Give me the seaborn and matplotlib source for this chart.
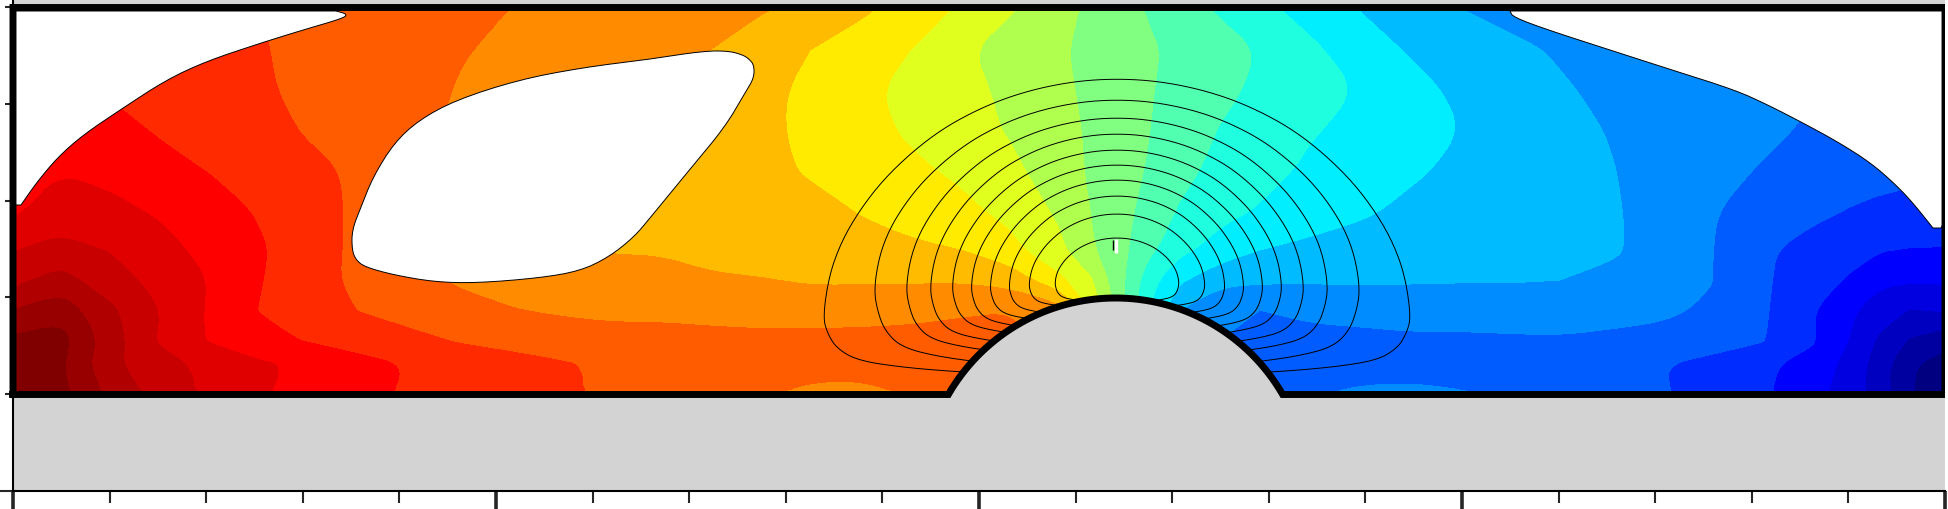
import numpy as np
import matplotlib
matplotlib.use("Agg")
import matplotlib.pyplot as plt
from matplotlib.path import Path
from matplotlib.patches import PathPatch
from matplotlib.ticker import FixedLocator
import seaborn as sns

sns.set_style("white")

band_colors = ["#000080", "#0000a0", "#0000c0", "#0000e0", "#0000ff", "#002cff", "#005cff",
               "#008cff", "#00bbff", "#00eeff", "#1fffe0", "#50ffaf", "#80ff80", "#b0ff4f",
               "#e0ff1f", "#ffeb00", "#ffbb00", "#ff8c00", "#ff5c00", "#ff2a00", "#ff0000",
               "#e10000", "#c80000", "#b00000", "#980000", "#800000"]

col_x = [13, 60, 110, 160, 210, 260, 310, 360, 410, 460, 510, 560, 610, 660, 710, 760, 810, 860, 910, 960,
         1010, 1060, 1090, 1120, 1150, 1180, 1220, 1260, 1310, 1360, 1410, 1460, 1510, 1560, 1610, 1660,
         1710, 1760, 1810, 1850, 1880, 1910, 1945]
row_y = [8, 50, 90, 130, 170, 210, 250, 280, 310, 340, 365, 394]

r008 = [21.2, 20.9, 20.6, 20.2, 19.6, 19.0, 18.8, 18.6, 18.4, 18.2, 18.0, 17.8, 17.65, 17.5, 17.3, 17.1, 16.75, 16.2, 15.6, 14.9,
        14.1, 13.3, 12.85, 12.4, 11.9, 11.45, 10.85, 10.25, 9.6, 8.95, 8.5, 8.0, 7.7, 7.5, 7.4, 7.3,
        7.2, 7.1, 7.0, 6.9, 6.8, 6.7, 6.6]
r050 = [20.3, 20.0, 19.8, 19.6, 19.4, 19.05, 18.8, 18.55, 18.3, 18.05, 17.85, 17.65, 17.45, 17.2, 17.0, 16.5, 16.0, 15.5, 15.0, 14.15,
        13.6, 13.1, 12.75, 12.45, 12.1, 11.8, 11.4, 10.95, 10.2, 9.5, 8.9, 8.5, 8.2, 7.9, 7.7, 7.5,
        7.35, 7.2, 7.0, 6.8, 6.7, 6.6, 6.5]
r090 = [20.6, 20.3, 19.9, 19.7, 19.4, 19.1, 18.8, 18.55, 18.25, 17.95, 17.7, 17.5, 17.3, 17.15, 16.95, 16.3, 15.75, 15.2, 14.75, 14.3,
        13.8, 13.2, 12.8, 12.45, 12.05, 11.7, 11.25, 10.8, 10.4, 9.95, 9.35, 8.8, 8.45, 8.1, 7.8, 7.6,
        7.4, 7.2, 7.05, 6.85, 6.7, 6.5, 6.3]
r130 = [21.0, 20.7, 20.3, 19.9, 19.55, 19.3, 18.9, 18.4, 18.15, 17.9, 17.6, 17.3, 17.0, 16.9, 16.5, 16.15, 15.85, 15.35, 14.85, 14.45,
        13.9, 13.25, 12.9, 12.45, 12.0, 11.55, 10.95, 10.6, 10.1, 9.7, 9.4, 9.0, 8.65, 8.3, 7.95, 7.7,
        7.45, 7.2, 6.9, 6.7, 6.55, 6.35, 6.2]
r170 = [20.9, 20.95, 20.7, 20.3, 19.95, 19.6, 19.2, 18.85, 18.4, 18.0, 17.6, 17.2, 16.9, 16.7, 16.55, 16.25, 15.9, 15.55, 15.2, 14.8,
        14.25, 13.4, 12.9, 12.4, 11.9, 11.3, 10.7, 10.4, 9.8, 9.45, 9.15, 8.8, 8.55, 8.3, 8.05, 7.65,
        7.3, 6.95, 6.75, 6.55, 6.4, 6.25, 6.1]
r210 = [20.8, 21.5, 21.25, 20.85, 20.4, 19.9, 19.4, 18.8, 18.2, 17.7, 17.3, 17.0, 16.8, 16.65, 16.5, 16.35, 16.25, 15.95, 15.65, 15.25,
        14.7, 13.8, 13.0, 12.35, 11.6, 10.9, 10.35, 9.9, 9.5, 9.15, 8.8, 8.6, 8.45, 8.3, 8.1, 7.7,
        7.05, 6.75, 6.3, 5.95, 5.75, 5.7, 5.7]
r250 = [21.95, 22.3, 21.95, 21.35, 20.7, 20.1, 19.45, 18.75, 18.1, 17.65, 17.35, 17.15, 16.95, 16.95, 16.75, 16.5, 16.35, 16.25, 16.15, 16.0,
        15.3, 14.2, 13.15, 12.3, 11.2, 10.25, 9.55, 9.0, 8.75, 8.6, 8.5, 8.4, 8.35, 8.3, 8.15, 7.65,
        7.05, 6.2, 5.6, 5.3, 5.05, 4.95, 4.95]
r280 = [22.7, 23.4, 22.4, 21.7, 20.95, 20.05, 19.3, 18.8, 18.35, 17.85, 17.6, 17.45, 17.3, 17.2, 17.1, 17.05, 16.9, 16.9, 16.9, 16.9,
        16.6, 15.2, 14.15, 12.3, 10.3, 9.15, 8.3, 8.15, 8.1, 8.1, 8.08, 8.05, 8.05, 8.0, 7.75, 7.45,
        7.05, 6.2, 5.4, 4.9, 4.2, 4.1, 4.15]
r310 = [24.0, 24.6, 23.2, 22.0, 20.85, 19.95, 19.5, 18.95, 18.6, 18.35, 18.05, 17.85, 17.7, 17.75, 17.65, 17.5, 17.5, 17.5, 17.6, 17.8,
        17.95, 17.4, 15.0, 12.3, 10.0, 8.0, 7.1, 7.0, 7.3, 7.45, 7.5, 7.5, 7.55, 7.5, 7.35, 7.2,
        6.85, 6.2, 5.1, 4.15, 3.5, 2.95, 3.1]
r340 = [25.2, 25.4, 23.5, 21.85, 20.9, 20.3, 19.9, 19.6, 19.25, 18.9, 18.7, 18.55, 18.45, 18.35, 18.3, 18.3, 18.3, 18.35, 18.4, 18.5,
        18.6, 17.0, 15.0, 12.0, 10.0, 8.5, 7.0, 6.6, 6.6, 6.65, 6.8, 6.8, 6.85, 6.9, 6.8, 6.7,
        6.5, 6.1, 5.2, 3.95, 2.8, 1.9, 1.4]
r365 = [25.6, 25.15, 23.2, 22.4, 21.7, 21.15, 20.8, 20.3, 19.95, 19.6, 19.35, 19.1, 18.85, 18.65, 18.5, 18.4, 18.3, 18.35, 18.5, 18.7,
        18.9, 17.0, 15.0, 12.0, 10.0, 8.5, 7.0, 6.4, 6.45, 6.5, 6.5, 6.45, 6.35, 6.25, 6.15, 6.05,
        5.65, 5.25, 4.55, 3.7, 2.4, 1.1, 0.5]
r394 = [25.8, 25.3, 23.8, 22.6, 21.8, 21.1, 20.65, 20.2, 19.9, 19.65, 19.35, 19.1, 18.9, 18.6, 18.35, 18.1, 17.8, 17.7, 18.05, 18.4,
        18.5, 17.0, 15.0, 12.0, 10.0, 8.5, 7.0, 6.5, 6.9, 7.2, 7.3, 7.1, 6.8, 6.55, 6.35, 6.1,
        5.65, 5.2, 4.4, 3.5, 2.5, 1.1, 0.3]

# Outline vertices; a vertex repeated three times stays a sharp corner.
mask_left_x = [13, 13, 13, 21, 21, 37, 58, 83, 120, 166, 207, 261, 303, 344, 347, 336, 336, 13, 13, 13]
mask_left_y = [205, 205, 205, 205, 205, 182, 157, 135, 110, 80, 61, 43, 30, 18, 14, 11, 11, 11, 11, 11]
mask_right_x = [1510, 1510, 1510, 1513, 1548, 1610, 1672, 1735, 1768, 1803, 1838, 1871, 1896, 1913, 1933, 1933, 1941, 1941, 1945, 1945, 1945, 1945, 1945, 1945]
mask_right_y = [11, 11, 11, 17, 30, 50, 70, 90, 105, 123, 142, 163, 185, 203, 228, 228, 228, 228, 220, 220, 220, 11, 11, 11]
hole_x = [650, 580, 518, 456, 419, 394, 373, 361, 352, 352, 356, 365, 394, 435, 477, 539, 580, 609, 634, 650,
          691, 725, 745, 754, 754, 749, 743, 729, 704, 650]
hole_y = [59, 68, 80, 100, 120, 143, 177, 207, 230, 250, 260, 267, 275, 282, 283, 278, 271, 257, 237, 218,
          168, 127, 93, 78, 65, 59, 55, 51, 51, 59]

curve_half_width = [294, 243, 211, 187, 165, 146, 127, 108, 88, 62]
curve_apex_y = [79, 100, 118, 134, 150, 165, 180, 196, 214, 238]
curve_side_y = [317, 290, 288, 288, 287, 287, 287, 286, 285, 283]
curve_base_y = [375, 367, 356, 347, 338, 331, 323, 316, 308, 302]
dome_u = [0, .1, .2, .3, .4, .5, .6, .7, .8, .88, .94, .98, 1.0]
dome_v = [0, .005, .022, .05, .09, .145, .215, .31, .43, .56, .69, .83, 1.0]
base_u = [1.0, .985, .955, .888, .745, .534, .3]
base_w = [0, .28, .53, .74, .86, .95, 1]
curve_center = 1117

x_major = [13, 496, 979, 1462, 1945]
x_minor = [110, 206, 303, 399, 593, 689, 786, 882, 1076, 1172, 1269, 1365, 1559, 1655, 1752, 1848]
y_minor = [7, 104, 201, 297, 394]
y_major = [490.7]


def round_corners(pts, passes=3, closed=True):
    """Corner cutting, so that outlines drawn from the read values look rounded."""
    p = np.asarray(pts, dtype=float)
    for _ in range(passes):
        q = np.roll(p, -1, axis=0) if closed else p[1:]
        a = p if closed else p[:-1]
        cut = np.empty((2 * len(a), 2))
        cut[0::2] = 0.75 * a + 0.25 * q
        cut[1::2] = 0.25 * a + 0.75 * q
        p = cut if closed else np.vstack([pts[0], cut, pts[-1]])
    return p


fig = plt.figure(figsize=(19.49, 5.09), dpi=100)
ax = fig.add_axes([0, 0, 1, 1])
ax.set_xlim(0, 1949)
ax.set_ylim(509, 0)

field = np.array([r008, r050, r090, r130, r170, r210, r250, r280, r310, r340, r365, r394])
palette = sns.color_palette(band_colors)
bands = ax.contourf(col_x, row_y, field, levels=np.arange(0, 27), colors=palette,
                    antialiased=False, zorder=1)

for path, color in zip(bands.get_paths(), palette):
    rings = [round_corners(r[:-1]) for r in path.to_polygons(closed_only=True) if len(r) > 3]
    if not rings:
        continue
    verts = np.vstack([np.vstack([r, r[0]]) for r in rings])
    codes = np.concatenate([[Path.MOVETO] + [Path.LINETO] * (len(r) - 1) + [Path.CLOSEPOLY] for r in rings])
    ax.add_patch(PathPatch(Path(verts, codes), facecolor=color, edgecolor="none", linewidth=0,
                           antialiased=False, zorder=1.5))

for mx, my in [(mask_left_x, mask_left_y), (mask_right_x, mask_right_y), (hole_x, hole_y)]:
    smooth = round_corners(np.column_stack([mx, my]), passes=2)
    ax.fill(smooth[:, 0], smooth[:, 1], facecolor="white", edgecolor="black", linewidth=0.7, zorder=2)

du, dv = np.array(dome_u), np.array(dome_v)
bu, bw = np.array(base_u), np.array(base_w)
for w, a, s, b in zip(curve_half_width, curve_apex_y, curve_side_y, curve_base_y):
    half_x = np.concatenate([du, bu[1:]]) * w
    half_y = np.concatenate([a + dv * (s - a), s + bw[1:] * (b - s)])
    xs = np.concatenate([curve_center - half_x[::-1], curve_center + half_x[1:]])
    ys = np.concatenate([half_y[::-1], half_y[1:]])
    smooth = round_corners(np.column_stack([xs, ys]), passes=3, closed=False)
    ax.plot(smooth[:, 0], smooth[:, 1], color="black", linewidth=0.7, zorder=3)

ax.plot([1116, 1116], [239, 253], color="white", linewidth=2.4, zorder=3.5, solid_capstyle="butt")
ax.plot([1113, 1113], [240, 250], color="black", linewidth=1.0, zorder=3.6, solid_capstyle="butt")

# Solid ground with its circular bump, and the outline around the flow region.
hump_cx, hump_cy, hump_r = 1115.5, 491.0, 193.0
t = np.linspace(np.arcsin(96.5 / hump_r), np.pi - np.arcsin(96.5 / hump_r), 200)
arc_x = hump_cx - hump_r * np.cos(t)
arc_y = hump_cy - hump_r * np.sin(t)
ground_x = np.concatenate([[13], arc_x, [1945, 1945, 13]])
ground_y = np.concatenate([[394.5], arc_y, [394.5, 490.7, 490.7]])
ax.fill(ground_x, ground_y, color="#d3d3d3", linewidth=0, zorder=4)
ax.fill([13, 1945, 1945, 13], [0, 0, 5, 5], color="#d3d3d3", linewidth=0, zorder=4)
frame_x = np.concatenate([[13], arc_x, [1945, 1945, 13, 13]])
frame_y = np.concatenate([[394.5], arc_y, [394.5, 7.5, 7.5, 394.5]])
frame, = ax.plot(frame_x, frame_y, color="black", linewidth=5.0, zorder=5, solid_joinstyle="miter",
                 solid_capstyle="projecting")
ax.fill([1945, 1949, 1949, 1945], [0, 0, 490, 490], color="white", linewidth=0, zorder=5.5)

for side in ["top", "right"]:
    ax.spines[side].set_visible(False)
ax.spines["bottom"].set_position(("data", 490.7))
ax.spines["left"].set_position(("data", 13))
ax.spines["bottom"].set_bounds(13, 1945)
ax.spines["left"].set_bounds(0, 490.7)
for side in ["bottom", "left"]:
    ax.spines[side].set_linewidth(1.5)
    ax.spines[side].set_color("black")
    ax.spines[side].set_zorder(6)

ax.xaxis.set_major_locator(FixedLocator(x_major))
ax.xaxis.set_minor_locator(FixedLocator(x_minor))
ax.yaxis.set_major_locator(FixedLocator(y_major))
ax.yaxis.set_minor_locator(FixedLocator(y_minor))
ax.tick_params(axis="x", which="major", direction="out", bottom=True, length=13, width=2.6, labelbottom=False)
ax.tick_params(axis="x", which="minor", direction="out", bottom=True, length=8.6, width=1.5)
ax.tick_params(axis="y", which="major", direction="out", left=True, length=9.4, width=1.5, labelleft=False)
ax.tick_params(axis="y", which="minor", direction="out", left=True, length=5.8, width=1.5)
ax.grid(False)
ax.patch.set_alpha(0)

fig.savefig("out.png", dpi=100, facecolor="white")
